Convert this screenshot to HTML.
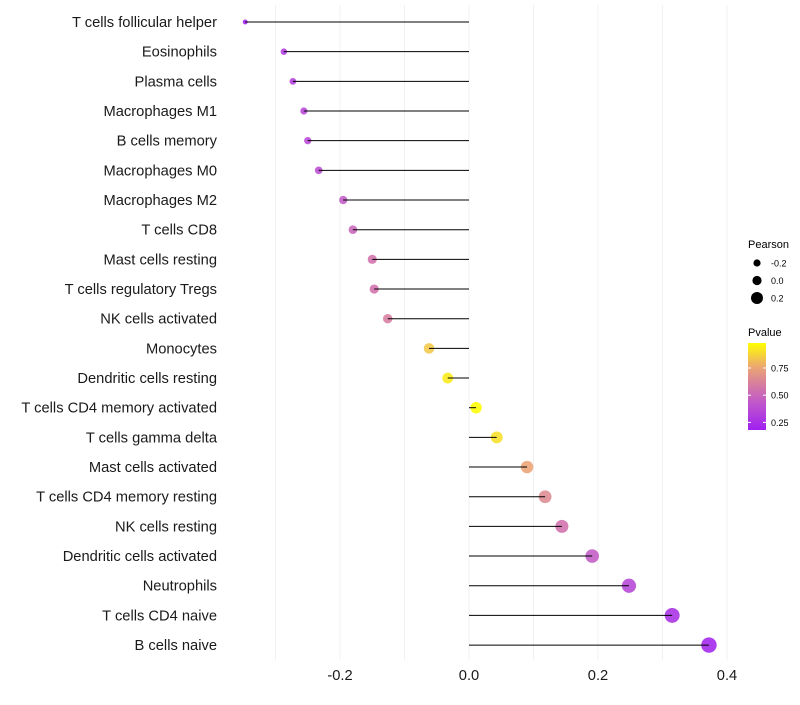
<!DOCTYPE html>
<html><head><meta charset="utf-8"><style>
body{margin:0;background:#fff;font-family:"Liberation Sans",sans-serif}
</style></head><body>
<svg id="chart" width="800" height="700" xmlns="http://www.w3.org/2000/svg"></svg>
<script>
const categories=["T cells follicular helper","Eosinophils","Plasma cells","Macrophages M1","B cells memory","Macrophages M0","Macrophages M2","T cells CD8","Mast cells resting","T cells regulatory  Tregs ","NK cells activated","Monocytes","Dendritic cells resting","T cells CD4 memory activated","T cells gamma delta","Mast cells activated","T cells CD4 memory resting","NK cells resting","Dendritic cells activated","Neutrophils","T cells CD4 naive","B cells naive"];
const pearson=[-0.347,-0.287,-0.273,-0.256,-0.250,-0.233,-0.195,-0.180,-0.150,-0.147,-0.126,-0.062,-0.033,0.011,0.043,0.090,0.118,0.144,0.191,0.248,0.315,0.372];
const pvalue=[0.18,0.3,0.32,0.35,0.36,0.38,0.45,0.5,0.55,0.55,0.6,0.84,0.93,0.98,0.9,0.75,0.65,0.55,0.45,0.35,0.25,0.2];
const xTicks=[-0.2,0.0,0.2,0.4];
const xTickLabels=["-0.2","0.0","0.2","0.4"];
const gridVals=[-0.3,-0.2,-0.1,0,0.1,0.2,0.3,0.4];
const sizeLegend=[-0.2,0.0,0.2];
const pLegend=[0.75,0.50,0.25];

const NS="http://www.w3.org/2000/svg";
const svg=document.getElementById('chart');
const x=v=>469+v*645;
const y=i=>22+i*29.67;
const r=v=>Math.sqrt(Math.max(1,32+75*v));
const stops=[[0,[160,32,240]],[0.3,[190,85,205]],[0.5,[212,120,165]],[0.72,[235,165,115]],[1,[255,255,0]]];
function col(p){const t=Math.max(0,Math.min(1,(p-0.18)/(0.98-0.18)));
 for(let k=1;k<stops.length;k++){if(t<=stops[k][0]){const a=stops[k-1],b=stops[k];const f=(t-a[0])/(b[0]-a[0]);
 const c=a[1].map((v,j)=>Math.round(v+(b[1][j]-v)*f));return `rgb(${c})`;}}return 'rgb(255,255,0)';}
function el(tag,attrs,parent){const e=document.createElementNS(NS,tag);for(const k in attrs)e.setAttribute(k,attrs[k]);(parent||svg).appendChild(e);return e;}

gridVals.forEach(v=>{const g=el('line',{x1:x(v),x2:x(v),y1:5,y2:660,stroke:'#f0f0f0','stroke-width':1});

});

categories.forEach((c,i)=>{
 const pt=el('circle',{cx:x(pearson[i]),cy:y(i),r:r(pearson[i]),fill:col(pvalue[i]),'fill-opacity':0.88});
 
 
 const ln=el('line',{x1:x(0),x2:x(pearson[i]),y1:y(i),y2:y(i),stroke:'#000','stroke-width':1});
 
 
 const t=el('text',{x:217,y:y(i)+5,'text-anchor':'end','font-size':14.7,fill:'#1a1a1a'});
 t.textContent=c;
 
 
});
xTicks.forEach((v,i)=>{const t=el('text',{x:x(v),y:680,'text-anchor':'middle','font-size':14.7,fill:'#1a1a1a'});
 t.textContent=xTickLabels[i];
 
 });

const lt=el('text',{x:748,y:248,'font-size':11,fill:'#000'});lt.textContent='Pearson';


const legR=[3.6,4.6,6];
sizeLegend.forEach((v,i)=>{const cy=263+i*17.5;
 const c=el('circle',{cx:757,cy:cy,r:legR[i],fill:'#000'});
 
 
 const t=el('text',{x:771,y:cy+3.5,'font-size':9,fill:'#000'});t.textContent=v===0?'0.0':v.toFixed(1);
 
 });

const pt2=el('text',{x:748,y:336,'font-size':11,fill:'#000'});pt2.textContent='Pvalue';


const defs=el('defs',{});const grad=el('linearGradient',{id:'g',x1:0,y1:1,x2:0,y2:0},defs);
stops.forEach(s=>el('stop',{offset:s[0],'stop-color':`rgb(${s[1]})`},grad));
const bar=el('rect',{x:748,y:343,width:18,height:87,fill:'url(#g)'});


const py=p=>430-(p-0.18)/(0.98-0.18)*87;
pLegend.forEach(p=>{
 el('line',{x1:748,x2:751,y1:py(p),y2:py(p),stroke:'#fff'});el('line',{x1:763,x2:766,y1:py(p),y2:py(p),stroke:'#fff'});
 const t=el('text',{x:771,y:py(p)+3.5,'font-size':9,fill:'#000'});t.textContent=p.toFixed(2);
 
 });
</script>
</body></html>
